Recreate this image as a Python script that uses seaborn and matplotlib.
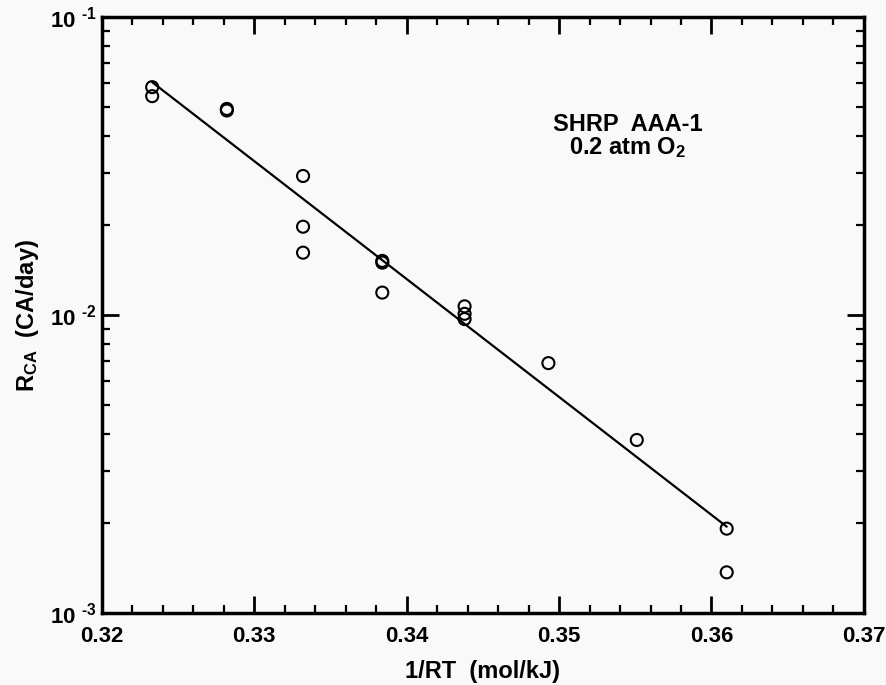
import matplotlib
matplotlib.use("Agg")
import matplotlib.pyplot as plt
import matplotlib.ticker as mticker
import seaborn as sns
import pandas as pd
import numpy as np

# data
inv_rt = [0.3233, 0.3233, 0.3282, 0.3282, 0.3332, 0.3332, 0.3332,
          0.3384, 0.3384, 0.3384, 0.3438, 0.3438, 0.3438, 0.3493, 0.3551, 0.3610, 0.3610]
rate = [0.0582, 0.0543, 0.0492, 0.0486, 0.0293, 0.0198, 0.0162,
        0.0152, 0.0150, 0.0119, 0.0107, 0.0101, 0.0097, 0.0069, 0.00381, 0.00192, 0.00137]
fit_x = [0.3233, 0.3610]
fit_y = [0.0605, 0.00195]

x_ticks = [0.32, 0.33, 0.34, 0.35, 0.36, 0.37]
x_ticklabels = ["0.32", "0.33", "0.34", "0.35", "0.36", "0.37"]
y_ticks = [1e-3, 1e-2, 1e-1]
y_ticklabels = ["10 $^{\\mathbf{\u2010 3}}$", "10 $^{\\mathbf{\u2010 2}}$", "10 $^{\\mathbf{\u2010 1}}$"]

sns.set_style("ticks")
plt.rcParams["font.family"] = ["Liberation Sans", "DejaVu Sans"]
plt.rcParams["font.weight"] = "bold"
plt.rcParams["text.color"] = "black"
plt.rcParams["axes.labelcolor"] = "black"
plt.rcParams["mathtext.fontset"] = "custom"
plt.rcParams["mathtext.rm"] = "Liberation Sans:bold"
plt.rcParams["mathtext.bf"] = "Liberation Sans:bold"
plt.rcParams["mathtext.it"] = "Liberation Sans:bold"

bg = "#f9f9f9"
fig = plt.figure(figsize=(8.86, 6.85), dpi=100, facecolor=bg)
ax = fig.add_axes([0.115, 0.105, 0.86, 0.870])
ax.set_facecolor(bg)

df = pd.DataFrame({"x": inv_rt, "y": rate})
fit = pd.DataFrame({"x": fit_x, "y": fit_y})

sns.lineplot(data=fit, x="x", y="y", ax=ax, color="black", linewidth=1.6)
sns.scatterplot(data=df, x="x", y="y", ax=ax, marker="o", s=75,
                facecolor="none", edgecolor="black", linewidth=1.5)

ax.set_yscale("log")
ax.set_xlim(0.32, 0.37)
ax.set_ylim(1e-3, 1e-1)

ax.set_xticks(x_ticks)
ax.set_xticklabels(x_ticklabels)
ax.xaxis.set_minor_locator(mticker.MultipleLocator(0.002))
ax.set_yticks(y_ticks)
ax.set_yticklabels(y_ticklabels)
ax.yaxis.set_minor_locator(mticker.LogLocator(base=10, subs=np.arange(2, 10), numticks=20))
ax.yaxis.set_minor_formatter(mticker.NullFormatter())

ax.tick_params(which="both", direction="in", top=True, right=True, width=2,
               colors="black", labelcolor="black")
ax.tick_params(which="major", length=12, labelsize=16)
ax.tick_params(axis="x", which="major", pad=9)
ax.tick_params(axis="y", which="major", pad=4)
ax.tick_params(which="minor", length=6, width=1.6)
for s in ax.spines.values():
    s.set_linewidth(2.5)
    s.set_color("black")
    s.set_visible(True)

ax.set_xlabel("1/RT  (mol/kJ)", fontsize=17, fontweight="bold", labelpad=10)
ax.set_ylabel(r"R$_{\mathbf{CA}}$  (CA/day)", fontsize=17, fontweight="bold", labelpad=6)

ax.text(0.69, 0.80, "SHRP  AAA-1\n0.2 atm O$_{\\mathbf{2}}$", transform=ax.transAxes,
        ha="center", va="center", fontsize=17, fontweight="bold", linespacing=0.95)

fig.savefig("out.png", dpi=100, facecolor=bg)
